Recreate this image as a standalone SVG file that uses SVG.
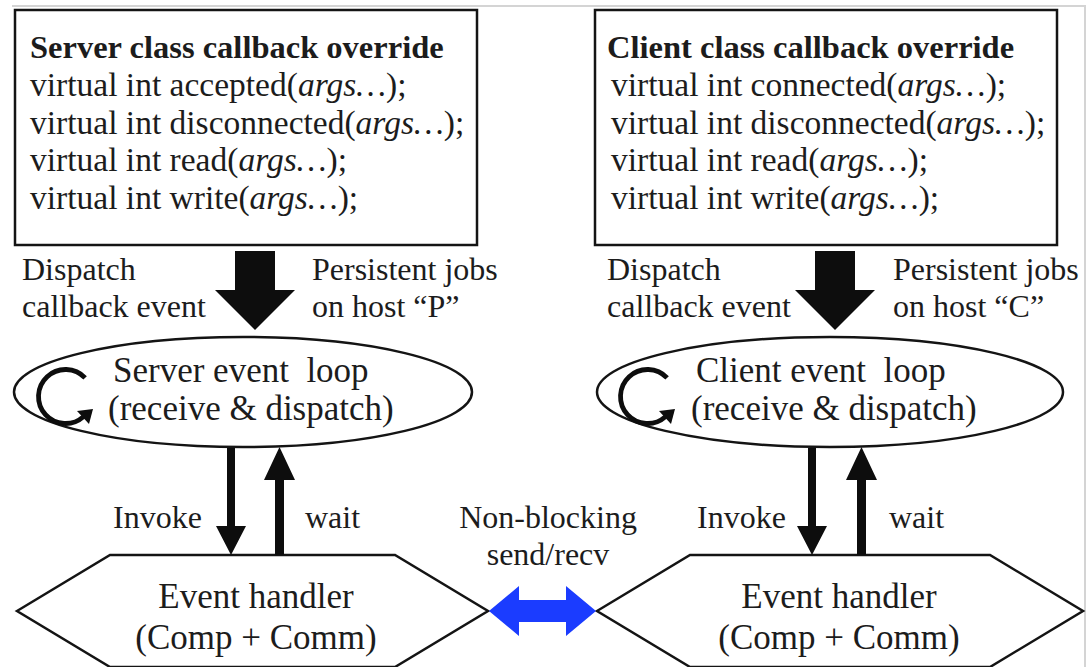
<svg xmlns="http://www.w3.org/2000/svg" width="1088" height="667" viewBox="0 0 1088 667">
  <style>
    .frame { fill: none; stroke: #d4d4d4; stroke-width: 2; }
    .shape { fill: #ffffff; stroke: #141414; stroke-width: 2.5; }
    .solid { fill: #0d0d0d; stroke: none; }
    .blue { fill: #1b3cff; stroke: none; }
    .loop { fill: none; stroke: #0d0d0d; stroke-width: 4.8; }
    text { font-family: "Liberation Serif", "Times New Roman", serif; fill: #1c1c1c; }
    .code { font-size: 33.5px; }
    .head { font-weight: bold; font-size: 32.5px; }
    .lbl { font-size: 32px; }
    .ell { font-size: 35px; }
    .hex { font-size: 35px; text-anchor: middle; }
    .mid { text-anchor: middle; }
    .it { font-style: italic; }
  </style>

  <!-- page edge -->
  <path class="frame" d="M12 6 H1085 V667"/>

  <!-- server side -->
  <g id="server-callbacks">
    <rect class="shape" x="15" y="10" width="462" height="235"/>
    <text class="code head" x="30" y="58">Server class callback override</text>
    <text class="code" x="30" y="96">virtual int accepted(<tspan class="it">args…</tspan>);</text>
    <text class="code" x="30" y="134">virtual int disconnected(<tspan class="it">args…</tspan>);</text>
    <text class="code" x="30" y="171">virtual int read(<tspan class="it">args…</tspan>);</text>
    <text class="code" x="30" y="209">virtual int write(<tspan class="it">args…</tspan>);</text>
  </g>

  <g id="server-loop">
    <ellipse class="shape" cx="243" cy="392" rx="229" ry="55"/>
    <path class="loop" d="M85.1 377.9 A27 27 0 1 0 83.4 416.7"/>
    <path class="solid" d="M93 409 L89 424 L77 411 Z"/>
    <text class="ell" x="113" y="382" xml:space="preserve">Server event  loop</text>
    <text class="ell" x="108" y="420">(receive &amp; dispatch)</text>
  </g>

  <g id="server-handler">
    <path class="shape" d="M17 611 L110 555 H395 L488 611 L395 667 H110 Z"/>
    <text class="hex" x="256" y="608">Event handler</text>
    <text class="hex" x="256" y="649">(Comp + Comm)</text>
  </g>

  <!-- client side -->
  <g id="client-callbacks">
    <rect class="shape" x="595" y="10" width="462" height="235"/>
    <text class="code head" x="607" y="58">Client class callback override</text>
    <text class="code" x="611" y="96">virtual int connected(<tspan class="it">args…</tspan>);</text>
    <text class="code" x="611" y="134">virtual int disconnected(<tspan class="it">args…</tspan>);</text>
    <text class="code" x="611" y="171">virtual int read(<tspan class="it">args…</tspan>);</text>
    <text class="code" x="611" y="209">virtual int write(<tspan class="it">args…</tspan>);</text>
  </g>

  <g id="client-loop">
    <ellipse class="shape" cx="830" cy="392" rx="233" ry="55"/>
    <path class="loop" d="M667.1 377.9 A27 27 0 1 0 665.4 416.7"/>
    <path class="solid" d="M675 409 L671 424 L659 411 Z"/>
    <text class="ell" x="696" y="382" xml:space="preserve">Client event  loop</text>
    <text class="ell" x="691" y="420">(receive &amp; dispatch)</text>
  </g>

  <g id="client-handler">
    <path class="shape" d="M597 611 L690 555 H990 L1083 611 L990 667 H690 Z"/>
    <text class="hex" x="839" y="608">Event handler</text>
    <text class="hex" x="839" y="649">(Comp + Comm)</text>
  </g>

  <!-- connectors -->
  <g id="connectors">
    <!-- callbacks dispatched into the event loops -->
    <path class="solid" d="M235 251 H275 V290 H295 L255 330 L215 290 H235 Z"/>
    <path class="solid" d="M815 251 H855 V290 H875 L835 330 L795 290 H815 Z"/>
    <!-- invoke / wait between loop and handler -->
    <path class="solid" d="M227 448 H235 V526 H246 L231 555 L216 526 H227 Z"/>
    <path class="solid" d="M275 555 V480 H264 L279.5 447 L295 480 H284 V555 Z"/>
    <path class="solid" d="M808 448 H816 V526 H827 L812 555 L797 526 H808 Z"/>
    <path class="solid" d="M857 555 V480 H846 L861.5 447 L877 480 H866 V555 Z"/>
    <!-- non-blocking link between handlers -->
    <path class="blue" d="M489 611 L519 586 V600 H566 V586 L596 611 L566 636 V622 H519 V636 Z"/>
  </g>

  <g id="labels">
    <text class="lbl" x="22" y="280">Dispatch</text>
    <text class="lbl" x="22" y="317">callback event</text>
    <text class="lbl" x="312" y="280">Persistent jobs</text>
    <text class="lbl" x="312" y="317">on host “P”</text>
    <text class="lbl" x="607" y="280">Dispatch</text>
    <text class="lbl" x="607" y="317">callback event</text>
    <text class="lbl" x="893" y="280">Persistent jobs</text>
    <text class="lbl" x="893" y="317">on host “C”</text>
    <text class="lbl" x="113" y="528">Invoke</text>
    <text class="lbl" x="305" y="528">wait</text>
    <text class="lbl" x="697" y="528">Invoke</text>
    <text class="lbl" x="889" y="528">wait</text>
    <text class="lbl mid" x="548" y="528">Non-blocking</text>
    <text class="lbl mid" x="548" y="565">send/recv</text>
  </g>
</svg>
